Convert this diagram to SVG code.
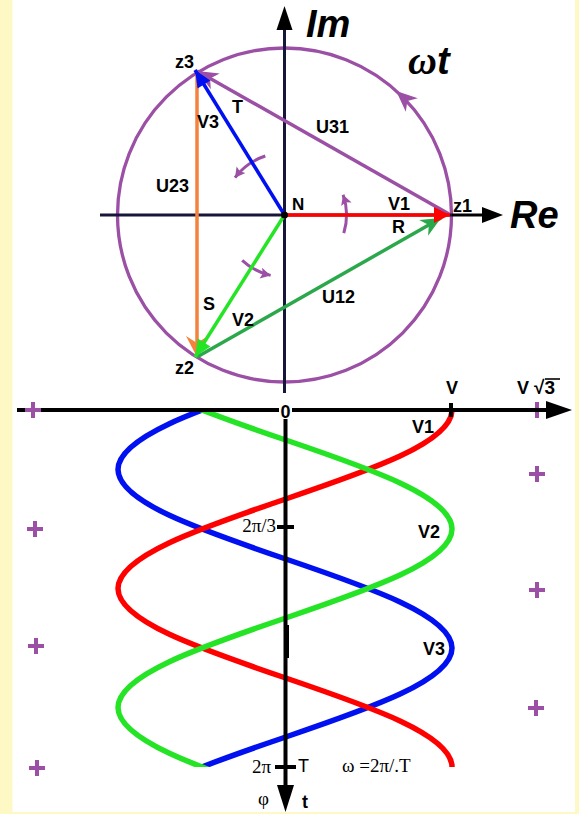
<svg xmlns="http://www.w3.org/2000/svg" width="579" height="814" viewBox="0 0 579 814">
<style>
.lb{font-family:"Liberation Sans",Arial,sans-serif;font-weight:bold;font-size:18px;fill:#000}
.ttl{font-family:"Liberation Sans",Arial,sans-serif;font-weight:bold;font-style:italic;font-size:38px;fill:#000}
.sf{font-family:"Liberation Serif","Times New Roman",serif;font-size:19px;fill:#000}
.sn{font-family:"Liberation Sans",Arial,sans-serif;font-size:18px;fill:#000}
.ax{stroke:#000;stroke-width:4;fill:none}
.uax{stroke:#16163a;stroke-width:3;fill:none}
.rot{stroke:#9b4fa5;stroke-width:3;fill:none;marker-end:url(#m-rot)}
.cv{stroke-width:5.5;fill:none}
.ph{stroke-width:3.5;fill:none}
</style>
<defs>
<marker id="m-red" markerUnits="userSpaceOnUse" orient="auto" markerWidth="16" markerHeight="16" refX="16" refY="8" overflow="visible"><path d="M0,0 L16,8 L0,16 Z" fill="#ff0000"/></marker>
<marker id="m-blue" markerUnits="userSpaceOnUse" orient="auto" markerWidth="17" markerHeight="15" refX="17" refY="7.5" overflow="visible"><path d="M0,0 L17,7.5 L0,15 Z" fill="#0010f0"/></marker>
<marker id="m-green" markerUnits="userSpaceOnUse" orient="auto" markerWidth="17" markerHeight="15" refX="17" refY="7.5" overflow="visible"><path d="M0,0 L17,7.5 L0,15 Z" fill="#25e425"/></marker>
<marker id="m-orange" markerUnits="userSpaceOnUse" orient="auto" markerWidth="21" markerHeight="22" refX="21" refY="11" overflow="visible"><path d="M0,0 L21,11 L0,22 L7,11 Z" fill="#f4823c"/></marker>
<marker id="m-dgreen" markerUnits="userSpaceOnUse" orient="auto" markerWidth="20" markerHeight="18" refX="20" refY="9" overflow="visible"><path d="M0,0 L20,9 L0,18 L6,9 Z" fill="#2ca84c"/></marker>
<marker id="m-purple" markerUnits="userSpaceOnUse" orient="auto" markerWidth="21" markerHeight="18" refX="21" refY="9" overflow="visible"><path d="M0,0 L21,9 L0,18 L6,9 Z" fill="#9b4fa5"/></marker>
<marker id="m-rot" markerUnits="userSpaceOnUse" orient="auto" markerWidth="11" markerHeight="11" refX="10" refY="5.5" overflow="visible"><path d="M0,0 L10,5.5 L0,11 L2,5.5 Z" fill="#9b4fa5"/></marker>
<clipPath id="clipc"><rect x="0" y="411" width="579" height="356"/></clipPath>
<path id="plus" d="M-8,0 H8 M0,-8 V8" stroke="#9b4fa5" stroke-width="4" fill="none"/>
</defs>

<g id="background">
<rect x="0" y="0" width="579" height="814" fill="#fdf8c4"/>
<rect x="12.5" y="0" width="562.5" height="812" fill="#ffffff"/>
</g>

<g id="circle">
<circle cx="284.5" cy="215" r="167" fill="none" stroke="#9b4fa5" stroke-width="3.3"/>
<path d="M451.5,215 A167,167 0 0 0 396.2,90.9" fill="none" stroke="none" marker-end="url(#m-purple)"/>
</g>

<g id="complex-axes">
<line class="uax" x1="284.5" y1="28" x2="284.5" y2="393"/>
<polygon points="276.5,30 292.5,30 284.5,6" fill="#000"/>
<line class="uax" x1="100" y1="215" x2="452" y2="215"/>
<line x1="452" y1="215" x2="484" y2="215" stroke="#000" stroke-width="3"/>
<polygon points="482,207 482,223 503,215" fill="#000"/>
<text class="ttl" x="306" y="37">Im</text>
<text class="ttl" x="510" y="228">Re</text>
<text x="408" y="74"><tspan style="font-family:'Liberation Serif','Times New Roman',serif;font-weight:bold;font-style:italic;font-size:40px">ω</tspan><tspan class="ttl">t</tspan></text>
</g>

<g id="rotation-arrows">
<path class="rot" d="M343.8,233.1 A62,62 0 0 0 343.1,194.8"/>
<path class="rot" d="M265.3,156.0 A62,62 0 0 0 235.0,177.7"/>
<path class="rot" d="M242.2,260.3 A62,62 0 0 0 270.6,275.4"/>
</g>

<g id="connectors">
<path id="U23" class="ph" d="M197,74 L197,357" stroke="#f4823c" marker-end="url(#m-orange)"/>
<path id="U31" class="ph" d="M449,214 L197,71" stroke="#9b4fa5" marker-end="url(#m-purple)"/>
<path id="U12" class="ph" d="M197,357 L441,218" stroke="#2ca84c" marker-end="url(#m-dgreen)"/>
<path id="V3" class="ph" d="M284.5,215 L195,70" stroke="#0010f0" marker-end="url(#m-blue)"/>
<path id="V2" class="ph" d="M284.5,215 L195,357" stroke="#25e425" marker-end="url(#m-green)"/>
<path id="V1" class="ph" d="M284.5,215 L450,215" stroke="#ff0000" marker-end="url(#m-red)"/>
</g>

<g id="node-N">
<circle cx="284.5" cy="215" r="3.5" fill="#000"/>
<text class="lb" x="292" y="210" style="font-size:17px">N</text>
</g>
<g id="node-z1"><text class="lb" x="453" y="212">z1</text></g>
<g id="node-z2"><text class="lb" x="175" y="374">z2</text></g>
<g id="node-z3"><text class="lb" x="175" y="68">z3</text></g>

<g id="phasor-labels">
<text class="lb" x="232" y="113">T</text>
<text class="lb" x="197" y="128">V3</text>
<text class="lb" x="156" y="192">U23</text>
<text class="lb" x="316" y="133">U31</text>
<text class="lb" x="388" y="210">V1</text>
<text class="lb" x="392" y="233">R</text>
<text class="lb" x="203" y="310">S</text>
<text class="lb" x="232" y="326">V2</text>
<text class="lb" x="322" y="303">U12</text>
</g>

<g id="waveforms" clip-path="url(#clipc)">
<path id="curve-V3" class="cv" stroke="#0010f0" d="M285,380.25 C199.45,409.36 118,437.2 118,469.5 C118,501.8 199.45,529.64 285,558.75 C370.55,587.86 452,615.7 452,648 C452,680.3 370.55,708.14 285,737.25 C199.45,766.36 118,794.2 118,826.5"/>
<path id="curve-V1" class="cv" stroke="#ff0000" d="M452,400 L452,410 C452,442.3 370.55,470.14 285,499.25 C199.45,528.36 118,556.2 118,588.5 C118,620.8 199.45,648.64 285,677.75 C370.55,706.86 452,734.7 452,767 L452,780"/>
<path id="curve-V2" class="cv" stroke="#25e425" d="M118,350.5 C118,382.8 199.45,410.64 285,439.75 C370.55,468.86 452,496.7 452,529 C452,561.3 370.55,589.14 285,618.25 C199.45,647.36 118,675.2 118,707.5 C118,739.8 199.45,767.64 285,796.75"/>
</g>

<g id="time-axes">
<use href="#plus" x="537" y="410"/>
<line class="ax" x1="17" y1="410" x2="548" y2="410"/>
<polygon points="546,401 572,410 546,419" fill="#000"/>
<line class="ax" x1="285.5" y1="418" x2="285.5" y2="788"/>
<line x1="287.5" y1="625" x2="287.5" y2="658" stroke="#000" stroke-width="3"/>
<polygon points="277,785 294,785 285.5,812" fill="#000"/>
<line class="ax" x1="451" y1="403" x2="451" y2="417"/>
<line class="ax" x1="277" y1="527" x2="294" y2="527"/>
<line class="ax" x1="275" y1="767" x2="296" y2="767"/>
<rect x="279" y="403" width="13" height="16" fill="#ffffff"/>
<text class="lb" x="285.5" y="418" text-anchor="middle">0</text>
</g>

<g id="time-labels">
<text class="lb" x="446" y="394">V</text>
<text class="lb" x="517" y="394">V <tspan x="534" style="font-size:19px">√3</tspan></text>
<line x1="545" y1="379" x2="560" y2="379" stroke="#000" stroke-width="1.6"/>
<text class="lb" x="412" y="433">V1</text>
<text class="lb" x="418" y="538">V2</text>
<text class="lb" x="423" y="655">V3</text>
<text class="sf" x="276" y="532" text-anchor="end">2π/3</text>
<text class="sf" x="271" y="773" text-anchor="end">2π</text>
<text class="sn" x="298" y="772">T</text>
<text class="sf" x="342" y="772">ω =2π/.T</text>
<text class="sf" x="258" y="805">φ</text>
<text class="lb" x="302" y="808">t</text>
</g>

<g id="crosses">
<use href="#plus" x="33" y="410"/>
<use href="#plus" x="35" y="529"/>
<use href="#plus" x="36" y="646"/>
<use href="#plus" x="37" y="768"/>
<use href="#plus" x="537" y="474"/>
<use href="#plus" x="537" y="590"/>
<use href="#plus" x="536" y="708"/>
</g>
</svg>
